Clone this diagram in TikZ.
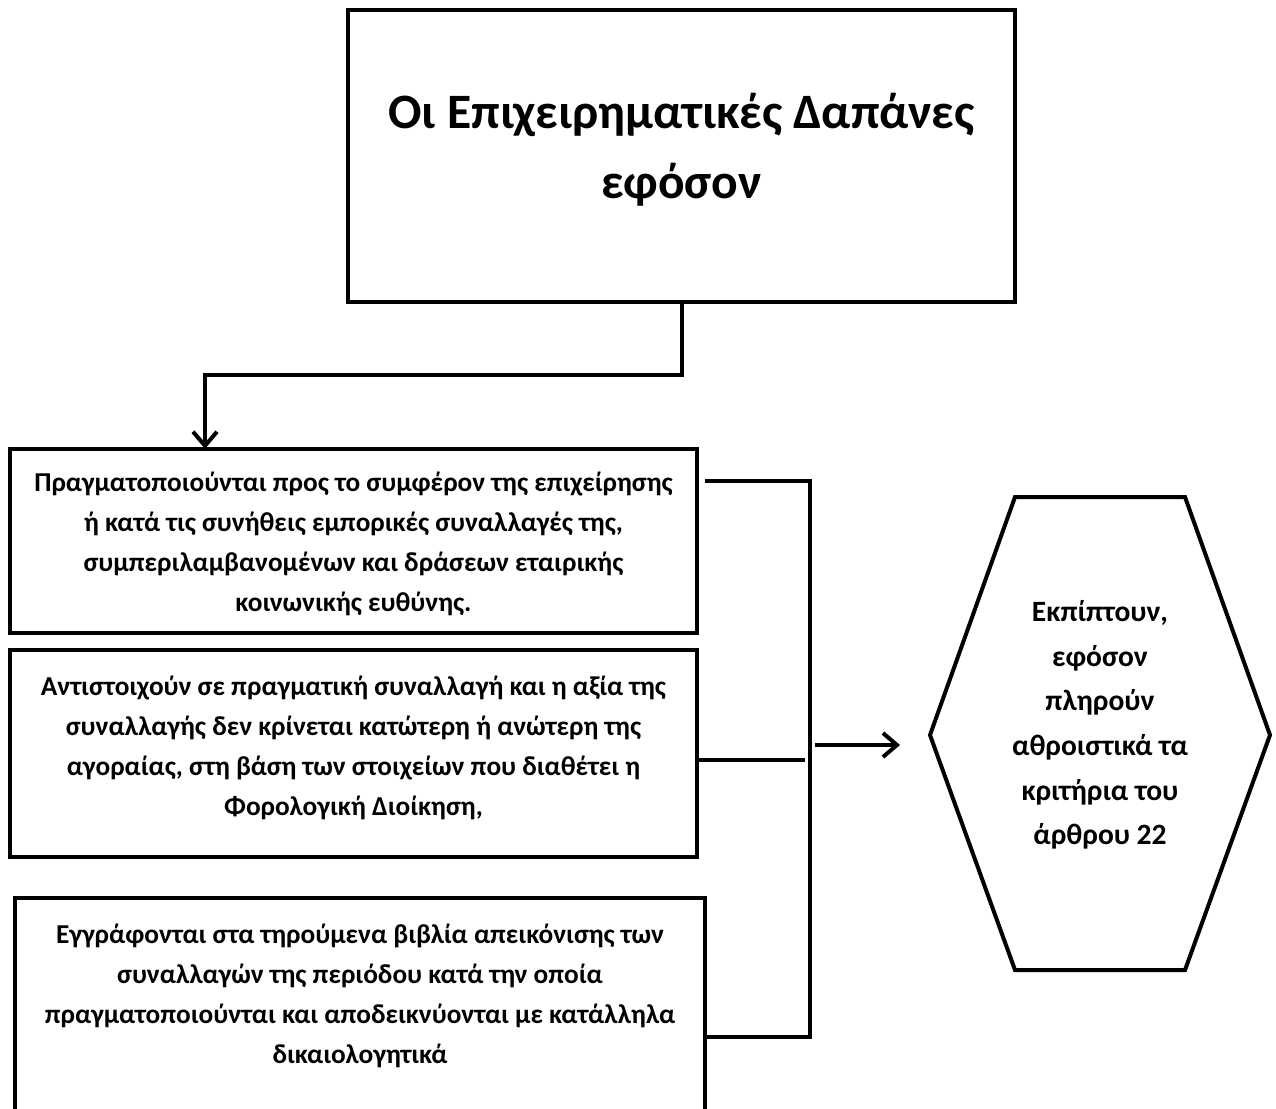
\documentclass[tikz,border=0pt]{standalone}
\usepackage{fontspec}
\setmainfont{Carlito}
\usetikzlibrary{arrows.meta,calc}
\begin{document}
\begin{tikzpicture}[x=1pt,y=-1pt,
  line/.style={line width=4pt,draw=black},
  arr/.style={line/.try,-{Straight Barb[length=14pt,width=24pt,line width=4pt]}},
  boxstyle/.style={draw=black,line width=4pt,fill=white,inner sep=0pt},
  txt/.style={font=\bfseries\fontsize{27.3}{40}\selectfont,align=center,inner sep=0pt},
]
\useasboundingbox (0,0) rectangle (1276,1108);
\clip (0,0) rectangle (1276,1108);
% top box
\draw[boxstyle] (348,10) rectangle (1015,302);
\node[minimum width=667pt,minimum height=292pt,inner sep=0pt] (top) at (681.5,156) {};
\node[txt,font=\bfseries\fontsize{49.5}{70}\selectfont] (topt) at (681.5,150) {Οι Επιχειρηματικές Δαπάνες\\εφόσον};
% box 1
\draw[boxstyle] (10,449) rectangle (697,633);
\node[txt,minimum width=687pt,minimum height=184pt] (box1) at (353.5,541) {};
\node[txt] (box1t) at (353.5,544) {Πραγματοποιούνται προς το συμφέρον της επιχείρησης\\ή κατά τις συνήθεις εμπορικές συναλλαγές της,\\συμπεριλαμβανομένων και δράσεων εταιρικής\\κοινωνικής ευθύνης.};
% box 2
\draw[boxstyle] (10,650) rectangle (697,857);
\node[txt,minimum width=687pt,minimum height=207pt] (box2) at (353.5,753.5) {};
\node[txt] (box2t) at (353.5,748) {Αντιστοιχούν σε πραγματική συναλλαγή και η αξία της\\συναλλαγής δεν κρίνεται κατώτερη ή ανώτερη της\\αγοραίας, στη βάση των στοιχείων που διαθέτει η\\Φορολογική Διοίκηση,};
% box 3 (bottom cut off)
\draw[boxstyle] (15,898) rectangle (705,1140);
\node[txt,minimum width=690pt,minimum height=242pt] (box3) at (360,1019) {};
\node[txt] (box3t) at (360,996) {Εγγράφονται στα τηρούμενα βιβλία απεικόνισης των\\συναλλαγών της περιόδου κατά την οποία\\πραγματοποιούνται και αποδεικνύονται με κατάλληλα\\δικαιολογητικά};
% hexagon
\node[txt,font=\bfseries\fontsize{29.5}{44.6}\selectfont] (hex) at (1100,725) {Εκπίπτουν,\\εφόσον\\πληρούν\\αθροιστικά τα\\κριτήρια του\\άρθρου 22};
\coordinate (hw) at (930,735);
\draw[line,line join=miter] (1015,497) -- (1185,497) -- (1270,735) -- (1185,970) -- (1015,970) -- (hw) -- cycle;
% connector top -> box1
\coordinate (j1) at (205,375);
\draw[arr] (top.south) |- (j1) -- (j1 |- box1.north);
% bracket
\coordinate (bt) at (810,481);
\coordinate (bb) at (810,1037);
\draw[line] ([xshift=8pt]box1.east |- bt) -- (bt) -- (bb) -- (box3.east |- bb);
\draw[line] (box2.east |- 0,760) -- (805,760);
\coordinate (as) at (815,745);
\draw[arr] (as) -- ([xshift=-30pt]hw |- as);
\end{tikzpicture}
\end{document}
